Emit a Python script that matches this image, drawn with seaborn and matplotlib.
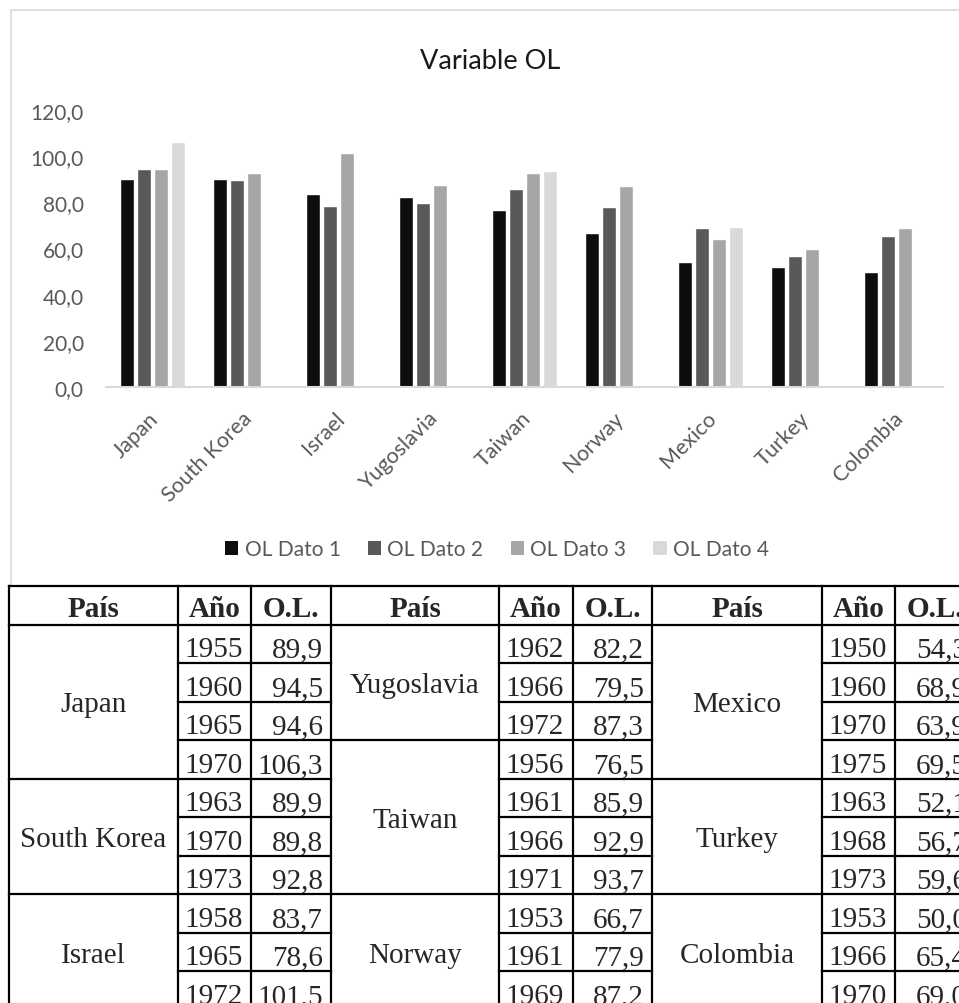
import numpy as np
import pandas as pd
import matplotlib
matplotlib.use("Agg")
import matplotlib.pyplot as plt
import matplotlib.transforms as mtransforms
from matplotlib.patches import Rectangle, Patch
import seaborn as sns

# ---- data -------------------------------------------------------------
countries = ["Japan", "South Korea", "Israel", "Yugoslavia", "Taiwan",
             "Norway", "Mexico", "Turkey", "Colombia"]
series_names = ["OL Dato 1", "OL Dato 2", "OL Dato 3", "OL Dato 4"]

ol_dato_1 = [89.9, 89.9, 83.7, 82.2, 76.5, 66.7, 54.3, 52.1, 50.0]
ol_dato_2 = [94.5, 89.8, 78.6, 79.5, 85.9, 77.9, 68.9, 56.7, 65.4]
ol_dato_3 = [94.6, 92.8, 101.5, 87.3, 92.9, 87.2, 63.9, 59.6, 69.0]
ol_dato_4 = [106.3, None, None, None, 93.7, None, 69.5, None, None]

year_1 = [1955, 1963, 1958, 1962, 1956, 1953, 1950, 1963, 1953]
year_2 = [1960, 1970, 1965, 1966, 1961, 1961, 1960, 1968, 1966]
year_3 = [1965, 1973, 1972, 1972, 1966, 1969, 1970, 1973, 1970]
year_4 = [1970, None, None, None, 1971, None, 1975, None, None]

y_ticks = [0, 20, 40, 60, 80, 100, 120]
table_headers = ["País", "Año", "O.L."]
chart_title = "Variable OL"

series_colors = ["#0d0d0d", "#595959", "#a6a6a6", "#d9d9d9"]
text_gray = "#595959"

values_by_series = [ol_dato_1, ol_dato_2, ol_dato_3, ol_dato_4]
years_by_series = [year_1, year_2, year_3, year_4]

records = []
for name, vals in zip(series_names, values_by_series):
    for c, v in zip(countries, vals):
        if v is not None:
            records.append({"country": c, "series": name, "value": v})
df = pd.DataFrame(records)


def fmt(v):
    return f"{v:.1f}".replace(".", ",")


# ---- figure -------------------------------------------------------------
sns.set_style("white")
plt.rcParams["font.family"] = ["Lato", "DejaVu Sans"]

W, H = 959, 1004
fig = plt.figure(figsize=(W / 100, H / 100), dpi=100)
fig.patch.set_facecolor("white")


def px_rect(x0, y0, x1, y1):
    return [x0 / W, 1 - y1 / H, (x1 - x0) / W, (y1 - y0) / H]


# light chart frame
fig.patches.append(Rectangle((11 / W, 1 - 600 / H), (1200 - 11) / W, (600 - 11) / H,
                             transform=fig.transFigure, fill=False,
                             edgecolor="#d9d9d9", lw=1.2, zorder=0))

ax = fig.add_axes(px_rect(106, 111, 943, 388))
sns.barplot(data=df, x="country", y="value", hue="series",
            order=countries, hue_order=series_names, palette=series_colors,
            width=0.73, gap=0.22, saturation=1, errorbar=None,
            legend=False, ax=ax)
ax.set_facecolor("none")
ax.set_xlim(-0.5, len(countries) - 0.5)
ax.set_ylim(0, 120)
ax.set_xlabel("")
ax.set_ylabel("")
ax.grid(False)
for side in ("left", "top", "right"):
    ax.spines[side].set_visible(False)
ax.spines["bottom"].set_color("#d9d9d9")
ax.spines["bottom"].set_linewidth(1.5)

ax.set_yticks(y_ticks)
ax.set_yticklabels([fmt(t) for t in y_ticks])
ax.tick_params(axis="y", length=0, pad=16, labelsize=15, labelcolor=text_gray)
ax.tick_params(axis="x", length=0, pad=15, labelsize=15.5, labelcolor=text_gray)

shift = mtransforms.ScaledTranslation(-4 / 100, 0, fig.dpi_scale_trans)
for lbl in ax.get_xticklabels():
    lbl.set_rotation(45)
    lbl.set_ha("right")
    lbl.set_va("top")
    lbl.set_rotation_mode("anchor")
    lbl.set_transform(lbl.get_transform() + shift)

fig.text(490 / W, 1 - 62 / H, chart_title, ha="center", va="center",
         fontsize=19.5, color="#1a1a1a")

handles = [Patch(facecolor=c, edgecolor="none") for c in series_colors]
fig.legend(handles, series_names, loc="center",
           bbox_to_anchor=(497 / W, 1 - 550 / H), ncol=4, frameon=False,
           fontsize=15, labelcolor=text_gray, handlelength=0.65,
           handleheight=0.65, handletextpad=0.3, columnspacing=1.3)

# ---- table ------------------------------------------------------------
tab = fig.add_axes([0, 0, 1, 1])
tab.set_xlim(0, W)
tab.set_ylim(H, 0)
tab.axis("off")
tab.set_zorder(5)

col_edges = [9, 178, 251, 331, 499, 573, 652, 822, 895, 975]
top = 587
header_h = 38.5
row_h = 38.5
lw = 1.6
serif = "Liberation Serif"
fs = 21

tab.add_patch(Rectangle((col_edges[0], top), 1200, 600, facecolor="white",
                        edgecolor="none"))


def hline(y, x0, x1):
    tab.plot([x0, x1], [y, y], color="black", lw=lw, solid_capstyle="projecting")


def vline(x, y0, y1):
    tab.plot([x, x], [y0, y1], color="black", lw=lw, solid_capstyle="projecting")


hline(top, col_edges[0], col_edges[-1])
hline(top + header_h, col_edges[0], col_edges[-1])
for x in col_edges:
    vline(x, top, H + 20)

per_group = 3
for g in range(3):
    x0, x1, x2, x3 = col_edges[3 * g: 3 * g + 4]
    for (a, b), head in zip([(x0, x1), (x1, x2), (x2, x3)], table_headers):
        tab.text((a + b) / 2, top + header_h - 8, head, ha="center",
                 va="baseline", fontsize=fs, fontweight="bold", family=serif)
    r = 0
    for ci in range(g * per_group, (g + 1) * per_group):
        vals = [s[ci] for s in values_by_series if s[ci] is not None]
        yrs = [s[ci] for s in years_by_series if s[ci] is not None]
        n = len(vals)
        y_start = top + header_h + r * row_h
        y_end = y_start + n * row_h
        tab.text((x0 + x1) / 2, (y_start + y_end) / 2 + 10, countries[ci],
                 ha="center", va="baseline", fontsize=fs, family=serif)
        for k, (yr, v) in enumerate(zip(yrs, vals)):
            yb = y_start + (k + 1) * row_h
            tab.text(x1 + 6, yb - 6.5, str(yr), ha="left", va="baseline",
                     fontsize=fs, family=serif)
            tab.text(x3 - 8, yb - 6.5, fmt(v), ha="right", va="baseline",
                     fontsize=fs, family=serif)
            hline(yb, x1, x3)
        hline(y_end, x0, x1)
        r += n

fig.savefig("out.png", dpi=100)
